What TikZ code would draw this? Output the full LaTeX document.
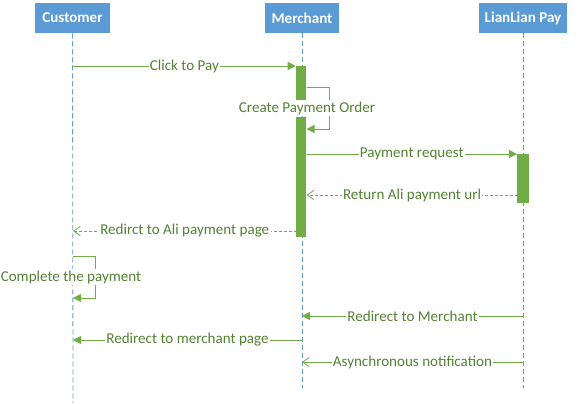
\documentclass[tikz,border=0pt]{standalone}
\usepackage{fontspec}
\setmainfont{Carlito}
\usetikzlibrary{arrows.meta}
\definecolor{hdrblue}{HTML}{5B9BD5}
\definecolor{msggreen}{HTML}{70AD47}
\definecolor{lblgreen}{HTML}{548235}
\tikzset{
  % participant box on top of each lifeline
  actor/.style={fill=hdrblue,text=white,font=\fontsize{11.3}{13}\selectfont\bfseries,
    minimum height=22.5pt,inner sep=0pt},
  lifeline/.style={draw=hdrblue,line width=0.6pt,dash pattern=on 3.75pt off 2.25pt},
  % activation bar
  actbar/.style={fill=msggreen,minimum width=7.5pt,inner sep=0pt},
  call/.style={draw=msggreen,line width=0.75pt,-{Triangle[length=6pt,width=6pt]}},
  reply/.style={draw=msggreen,line width=0.6pt,dash pattern=on 2.25pt off 1.5pt,
    -{Straight Barb[length=5pt,width=7pt]}},
  async/.style={draw=msggreen,line width=0.6pt,-{Straight Barb[length=5pt,width=7pt]}},
  msglabel/.style={fill=white,text=lblgreen,inner sep=1pt},
}
\begin{document}
\begin{tikzpicture}[x=0.75pt,y=-0.75pt,font=\fontsize{11.3}{13}\selectfont]
\useasboundingbox (0,0) rectangle (584,403);
% participants
\node[actor,minimum width=56.25pt] (cust) at (72.5,18) {Customer};
\node[actor,minimum width=55.5pt] (merch) at (302,18) {Merchant};
\node[actor,minimum width=66pt] (lian) at (523,18) {LianLian Pay};
\coordinate (custend) at (73,403);
\coordinate (merchend) at (302,388);
\coordinate (lianend) at (523,388);
\draw[lifeline] (cust.south) -- (custend);
\draw[lifeline] (merch.south) -- (merchend);
\draw[lifeline] (lian.south) -- (lianend);
% activation bars
\node[actbar,minimum height=25.5pt,anchor=north] (bar1) at (301,66) {};
\node[actbar,minimum height=90pt,anchor=north] (bar2) at (301,117) {};
\node[actbar,minimum width=8.5pt,minimum height=36.75pt,anchor=north] (bar3) at (523,154) {};
% messages
\coordinate (c1) at (73,66);
\draw[call] (c1) -- node[msglabel]{Click to Pay} (bar1.north west);
\coordinate (s1) at (306.5,87);
\coordinate (s2) at (329,87);
\coordinate (s3) at (329,129);
\coordinate (s4) at (306.5,129);
\draw[call] (s1) -- (s2) -- (s3) -- (s4);
\node[msglabel] (order) at (307,108) {Create Payment Order};
\coordinate (p1) at (306.5,154);
\draw[call] (p1) -- node[msglabel]{Payment request} (bar3.north west);
\coordinate (r1) at (517.5,195);
\coordinate (r2) at (306.5,195);
\draw[reply] (r1) -- node[msglabel]{Return Ali payment url} (r2);
\coordinate (a1) at (296.5,231);
\coordinate (a2) at (73,231);
\draw[reply] (a1) -- node[msglabel]{Redirct to Ali payment page} (a2);
\coordinate (q1) at (73,256);
\coordinate (q2) at (95,256);
\coordinate (q3) at (95,298);
\coordinate (q4) at (73,298);
\draw[call] (q1) -- (q2) -- (q3) -- (q4);
\node[msglabel] (done) at (71,277) {Complete the payment};
\coordinate (m1) at (523,316);
\coordinate (m2) at (302,316);
\draw[call] (m1) -- node[msglabel]{Redirect to Merchant} (m2);
\coordinate (n1) at (302,340);
\coordinate (n2) at (73,340);
\draw[call] (n1) -- node[msglabel]{Redirect to merchant page} (n2);
\coordinate (k1) at (523,362);
\coordinate (k2) at (302,362);
\draw[async] (k1) -- node[msglabel]{Asynchronous notification} (k2);
\end{tikzpicture}
\end{document}
